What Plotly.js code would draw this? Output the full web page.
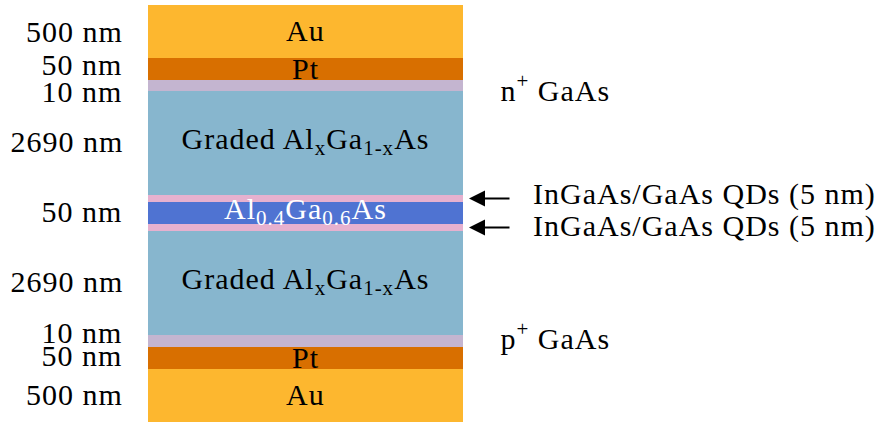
<!DOCTYPE html>
<html><head><meta charset="utf-8">
<script src="https://cdn.plot.ly/plotly-3.0.1.min.js"></script>
<style>html,body{margin:0;padding:0;background:#fff}
#chart .annotation-text{letter-spacing:1px}</style>
</head><body><div id="chart" style="width:878px;height:423px"></div>
<script>
// ---- data (top to bottom) ----
const layerNames = ['Au', 'Pt', 'n<sup>+</sup> GaAs', 'Graded Al<sub>x</sub>Ga<sub>1-x</sub>As',
  'InGaAs/GaAs QDs (5 nm)', 'Al<sub>0.4</sub>Ga<sub>0.6</sub>As', 'InGaAs/GaAs QDs (5 nm)',
  'Graded Al<sub>x</sub>Ga<sub>1-x</sub>As', 'p<sup>+</sup> GaAs', 'Pt', 'Au'];
const thicknessLabels = ['500 nm', '50 nm', '10 nm', '2690 nm', '', '50 nm', '', '2690 nm', '10 nm', '50 nm', '500 nm'];
const schematicHeights = [53, 22, 11, 104, 7, 22, 7, 104, 12, 22, 53];
const labelPlacement = ['inside', 'inside', 'right', 'inside', 'arrow', 'inside', 'arrow', 'inside', 'right', 'inside', 'inside'];

// ---- styles ----
const layerColors = ['#FDB72F', '#D86F00', '#C4B5D0', '#87B6CE', '#E6B1CF', '#4F73D2', '#E6B1CF', '#87B6CE', '#C4B5D0', '#D86F00', '#FDB72F'];
const labelColors = ['#000', '#000', '#000', '#000', '#000', '#fff', '#000', '#000', '#000', '#000', '#000'];
const thicknessNudge = [0.5, 5, -5.5, 2, 0, 2, 0, 2, 9, 3, 1.5];
const labelNudge = [1, 1, -2.5, 2, 4.5, 2.5, 1.5, 2, 5, 1, 1];
const FONT = 'Liberation Serif, Times New Roman, serif';
const FS = 30;
const stackTop = 5, stackCenterX = 305.5, stackWidth = 315;
const thickLabelX = 121.5, rightLabelX = 502, arrowTipX = 469, arrowTailX = 511, arrowTextX = 542;

// cumulative bases
const bases = [];
let acc = stackTop;
schematicHeights.forEach(h => { bases.push(acc); acc += h; });
const centers = bases.map((b, i) => b + schematicHeights[i] / 2);

const trace = {
  type: 'bar',
  x: schematicHeights.map(() => stackCenterX),
  y: schematicHeights,
  base: bases,
  width: schematicHeights.map(() => stackWidth),
  marker: { color: layerColors, line: { width: 0 } },
  hoverinfo: 'skip',
  showlegend: false
};

const annotations = [];
thicknessLabels.forEach((t, i) => {
  if (!t) return;
  annotations.push({ x: thickLabelX, y: centers[i], xref: 'x', yref: 'y', text: t, showarrow: false,
    xanchor: 'right', yanchor: 'middle', yshift: thicknessNudge[i], font: { family: FONT, size: FS, color: '#000' } });
});
layerNames.forEach((n, i) => {
  const p = labelPlacement[i];
  if (p === 'inside') {
    annotations.push({ x: stackCenterX, y: centers[i], xref: 'x', yref: 'y', text: n, showarrow: false,
      xanchor: 'center', yanchor: 'middle', yshift: labelNudge[i], font: { family: FONT, size: FS, color: labelColors[i] } });
  } else if (p === 'right') {
    annotations.push({ x: rightLabelX, y: centers[i], xref: 'x', yref: 'y', text: n, showarrow: false,
      xanchor: 'left', yanchor: 'middle', yshift: labelNudge[i], font: { family: FONT, size: FS, color: '#000' } });
  } else if (p === 'arrow') {
    annotations.push({ x: arrowTipX, y: centers[i], ax: arrowTailX, ay: centers[i], xref: 'x', yref: 'y', axref: 'x', ayref: 'y',
      text: '', showarrow: true, arrowhead: 2, arrowsize: 1.6, arrowwidth: 2, arrowcolor: '#000' });
    annotations.push({ x: arrowTextX, y: centers[i], xref: 'x', yref: 'y', text: n, showarrow: false,
      xanchor: 'left', yanchor: 'middle', yshift: labelNudge[i], font: { family: FONT, size: FS, color: '#000' } });
  }
});

const layout = {
  width: 878, height: 423,
  margin: { l: 0, r: 0, t: 0, b: 0 },
  paper_bgcolor: '#fff', plot_bgcolor: '#fff',
  xaxis: { range: [0, 878], visible: false, fixedrange: true },
  yaxis: { range: [423, 0], visible: false, fixedrange: true },
  barmode: 'overlay',
  annotations: annotations
};
Plotly.newPlot('chart', [trace], layout, { staticPlot: true, displayModeBar: false });
</script></body></html>
